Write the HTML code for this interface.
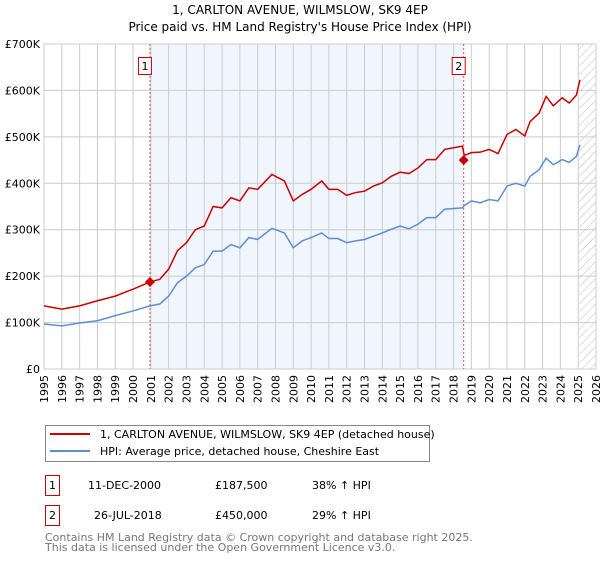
<!DOCTYPE html>
<html><head><meta charset="utf-8"><style>
body{margin:0;background:#fff;font-family:"Liberation Sans","DejaVu Sans",sans-serif}
svg text{font-family:"DejaVu Sans","Liberation Sans",sans-serif}
</style></head><body>
<svg width="600" height="560" xmlns="http://www.w3.org/2000/svg" id="chart">
<defs><pattern id="hatch" width="6" height="6" patternUnits="userSpaceOnUse" patternTransform="rotate(45)"><line x1="0" y1="0" x2="0" y2="6" stroke="#bbb" stroke-width="1"/></pattern></defs>
<text x="300" y="14" text-anchor="middle" font-size="12">1, CARLTON AVENUE, WILMSLOW, SK9 4EP</text>
<text x="300" y="31" text-anchor="middle" font-size="12">Price paid vs. HM Land Registry's House Price Index (HPI)</text>
<g id="plot"></g>
<g>
<rect x="45.5" y="425.5" width="384" height="36" fill="#fff" stroke="#888"/>
<line x1="50" y1="434" x2="90" y2="434" stroke="#cc0000" stroke-width="2"/>
<text x="100" y="438" font-size="11">1, CARLTON AVENUE, WILMSLOW, SK9 4EP (detached house)</text>
<line x1="50" y1="451" x2="90" y2="451" stroke="#5b8fd4" stroke-width="2"/>
<text x="100" y="455" font-size="11">HPI: Average price, detached house, Cheshire East</text>
</g>
<g font-size="11">
<rect x="45.5" y="475.5" width="14" height="20" fill="#fff" stroke="#cc0000"/><text x="52.5" y="489" text-anchor="middle">1</text>
<text x="88" y="489">11-DEC-2000</text><text x="215" y="489">£187,500</text><text x="312" y="489">38% ↑ HPI</text>
<rect x="45.5" y="505.5" width="14" height="20" fill="#fff" stroke="#cc0000"/><text x="52.5" y="519" text-anchor="middle">2</text>
<text x="94" y="519">26-JUL-2018</text><text x="215" y="519">£450,000</text><text x="312" y="519">29% ↑ HPI</text>
</g>
<text x="45" y="541" font-size="11" fill="#777">Contains HM Land Registry data © Crown copyright and database right 2025.</text>
<text x="45" y="551" font-size="11" fill="#777">This data is licensed under the Open Government Licence v3.0.</text>
</svg>
<script>
const years=[1995,1996,1997,1998,1999,2000,2000.95,2001.5,2002,2002.5,2003,2003.5,2004,2004.5,2005,2005.5,2006,2006.5,2007,2007.8,2008.5,2009,2009.5,2010,2010.6,2011,2011.5,2012,2012.5,2013,2013.5,2014,2014.5,2015,2015.5,2016,2016.5,2017,2017.5,2018.5,2018.6,2019,2019.5,2020,2020.5,2021,2021.5,2022,2022.3,2022.8,2023.2,2023.6,2024.1,2024.5,2024.9,2025.1];
const redValues=[136,129,136,147,157,172,187.5,193,215,255,272,300,308,350,347,369,362,390,387,419,405,362,376,387,405,387,387,374,380,383,394,401,415,424,421,433,451,451,473,480,460,466,467,473,464,505,516,502,533,551,587,567,584,573,590,623];
const hpiValues=[97,93,99,104,115,125,136,140,157,186,200,218,225,254,254,268,261,283,279,303,293,261,276,283,293,281,281,272,276,279,286,293,301,308,302,312,326,326,344,347,352,362,358,365,362,394,400,394,415,429,454,440,451,445,458,483];
const yTicks=[0,100,200,300,400,500,600,700];
const yTickLabels=["£0","£100K","£200K","£300K","£400K","£500K","£600K","£700K"];
const saleYears=[2000.95,2018.57];
const saleValues=[187.5,450];
const saleLabels=["1","2"];
const X0=44,X1=596,Y0=369,Y1=44;
const x=v=>X0+(v-1995)*(X1-X0)/31;
const y=v=>Y0-v*(Y0-Y1)/700;
const NS="http://www.w3.org/2000/svg";
const g=document.getElementById('plot');
function mk(t,a){const e=document.createElementNS(NS,t);for(const k in a)e.setAttribute(k,a[k]);g.appendChild(e);return e;}
let e=mk('rect',{x:x(saleYears[0]),y:Y1,width:x(saleYears[1])-x(saleYears[0]),height:Y0-Y1,fill:'#eef3fc',opacity:0.8});


e=mk('rect',{x:x(2025.05),y:Y1,width:X1-x(2025.05),height:Y0-Y1,fill:'url(#hatch)'});


for(let yr=1995;yr<=2026;yr++){
 e=mk('line',{x1:x(yr),x2:x(yr),y1:Y1,y2:Y0,stroke:'#ccc','stroke-width':1});
 
 
 const t=mk('text',{x:0,y:0,'font-size':11,'text-anchor':'end',transform:`translate(${x(yr)+4},${Y0+6}) rotate(-90)`});
 t.textContent=yr;
 
 
}
yTicks.forEach((v,i)=>{
 e=mk('line',{x1:X0,x2:X1,y1:y(v),y2:y(v),stroke:'#ccc','stroke-width':1});
 
 
 const t=mk('text',{x:X0-4,y:y(v)+4,'font-size':11,'text-anchor':'end'});
 t.textContent=yTickLabels[i];
 
 
});
e=mk('line',{x1:X0,x2:X0,y1:Y1,y2:Y0,stroke:'#ccc'});


saleYears.forEach((yr,i)=>{
 e=mk('line',{x1:x(yr),x2:x(yr),y1:Y1,y2:Y0,stroke:'#e05050','stroke-dasharray':'2,2','stroke-width':1});
 
 
});
function line(vals,col,name){
 const p=mk('polyline',{points:years.map((yr,i)=>x(yr)+','+y(vals[i])).join(' '),fill:'none',stroke:col,'stroke-width':1.5});
 
 
}
line(hpiValues,'#5b8fd4','hpi-line');
line(redValues,'#cc0000','property-price-line');
saleYears.forEach((yr,i)=>{
 const cx=x(yr),cy=y(saleValues[i]);
 e=mk('polygon',{points:`${cx},${cy-5} ${cx+5},${cy} ${cx},${cy+5} ${cx-5},${cy}`,fill:'#cc0000'});
 
 
 e=mk('rect',{x:cx-11.5,y:57.5,width:13,height:17,fill:'#fff',stroke:'#cc0000'});
 
 
 const t=mk('text',{x:cx-5,y:70,'font-size':11,'text-anchor':'middle'});
 t.textContent=saleLabels[i];
 
 
});
</script>
</body></html>
